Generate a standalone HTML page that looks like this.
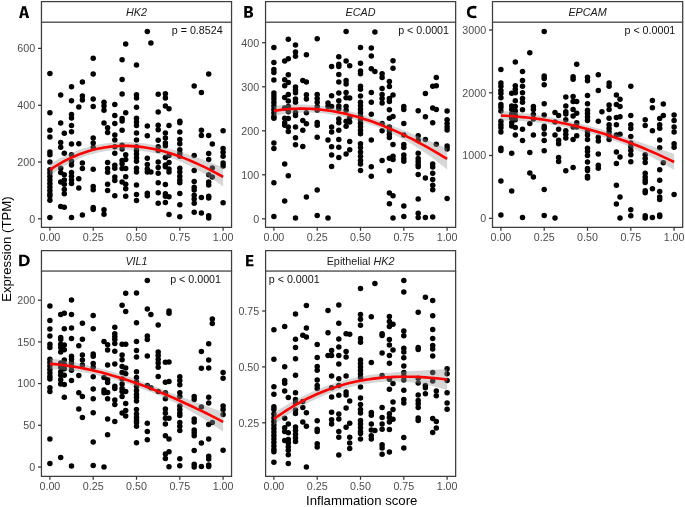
<!DOCTYPE html><html><head><meta charset="utf-8"><style>html,body{margin:0;padding:0;background:#fff}svg{display:block;will-change:transform;opacity:0.999}text{font-family:"Liberation Sans",sans-serif}</style></head><body>
<svg width="685" height="507" viewBox="0 0 685 507">
<rect width="685" height="507" fill="#fff"/>
<g id="pA">
<circle cx="49.9" cy="73.4" r="2.75"/>
<circle cx="49.9" cy="112.7" r="2.75"/>
<circle cx="49.9" cy="130.2" r="2.75"/>
<circle cx="49.9" cy="137.0" r="2.75"/>
<circle cx="49.9" cy="151.9" r="2.75"/>
<circle cx="49.9" cy="154.8" r="2.75"/>
<circle cx="49.9" cy="162.1" r="2.75"/>
<circle cx="49.9" cy="169.7" r="2.75"/>
<circle cx="49.9" cy="173.0" r="2.75"/>
<circle cx="49.9" cy="176.5" r="2.75"/>
<circle cx="49.9" cy="180.0" r="2.75"/>
<circle cx="49.9" cy="183.5" r="2.75"/>
<circle cx="49.9" cy="187.0" r="2.75"/>
<circle cx="49.9" cy="190.5" r="2.75"/>
<circle cx="49.9" cy="194.0" r="2.75"/>
<circle cx="49.9" cy="196.0" r="2.75"/>
<circle cx="49.9" cy="200.3" r="2.75"/>
<circle cx="49.9" cy="217.6" r="2.75"/>
<circle cx="60.7" cy="95.0" r="2.75"/>
<circle cx="60.7" cy="123.1" r="2.75"/>
<circle cx="60.7" cy="142.4" r="2.75"/>
<circle cx="60.7" cy="147.2" r="2.75"/>
<circle cx="60.7" cy="168.2" r="2.75"/>
<circle cx="60.7" cy="172.6" r="2.75"/>
<circle cx="60.7" cy="182.1" r="2.75"/>
<circle cx="60.7" cy="206.6" r="2.75"/>
<circle cx="64.3" cy="133.2" r="2.75"/>
<circle cx="64.3" cy="153.3" r="2.75"/>
<circle cx="64.3" cy="174.8" r="2.75"/>
<circle cx="64.3" cy="179.9" r="2.75"/>
<circle cx="64.3" cy="184.3" r="2.75"/>
<circle cx="64.3" cy="189.4" r="2.75"/>
<circle cx="64.3" cy="193.8" r="2.75"/>
<circle cx="64.3" cy="207.3" r="2.75"/>
<circle cx="71.5" cy="86.7" r="2.75"/>
<circle cx="71.5" cy="100.8" r="2.75"/>
<circle cx="71.5" cy="114.6" r="2.75"/>
<circle cx="71.5" cy="118.0" r="2.75"/>
<circle cx="71.5" cy="125.6" r="2.75"/>
<circle cx="71.5" cy="131.7" r="2.75"/>
<circle cx="71.5" cy="144.1" r="2.75"/>
<circle cx="71.5" cy="154.8" r="2.75"/>
<circle cx="71.5" cy="161.3" r="2.75"/>
<circle cx="71.5" cy="165.0" r="2.75"/>
<circle cx="71.5" cy="172.6" r="2.75"/>
<circle cx="71.5" cy="176.2" r="2.75"/>
<circle cx="71.5" cy="179.9" r="2.75"/>
<circle cx="71.5" cy="183.5" r="2.75"/>
<circle cx="71.5" cy="217.6" r="2.75"/>
<circle cx="78.8" cy="106.9" r="2.75"/>
<circle cx="78.8" cy="143.8" r="2.75"/>
<circle cx="78.8" cy="178.7" r="2.75"/>
<circle cx="78.8" cy="187.9" r="2.75"/>
<circle cx="82.4" cy="81.9" r="2.75"/>
<circle cx="82.4" cy="95.9" r="2.75"/>
<circle cx="82.4" cy="100.0" r="2.75"/>
<circle cx="82.4" cy="162.9" r="2.75"/>
<circle cx="82.4" cy="168.5" r="2.75"/>
<circle cx="82.4" cy="214.9" r="2.75"/>
<circle cx="93.2" cy="58.2" r="2.75"/>
<circle cx="93.2" cy="74.1" r="2.75"/>
<circle cx="93.2" cy="99.0" r="2.75"/>
<circle cx="93.2" cy="106.6" r="2.75"/>
<circle cx="93.2" cy="138.0" r="2.75"/>
<circle cx="93.2" cy="143.1" r="2.75"/>
<circle cx="93.2" cy="147.5" r="2.75"/>
<circle cx="93.2" cy="169.2" r="2.75"/>
<circle cx="93.2" cy="186.5" r="2.75"/>
<circle cx="93.2" cy="189.8" r="2.75"/>
<circle cx="93.2" cy="207.6" r="2.75"/>
<circle cx="93.2" cy="209.4" r="2.75"/>
<circle cx="104.0" cy="102.2" r="2.75"/>
<circle cx="104.0" cy="105.9" r="2.75"/>
<circle cx="104.0" cy="110.2" r="2.75"/>
<circle cx="104.0" cy="122.9" r="2.75"/>
<circle cx="104.0" cy="209.8" r="2.75"/>
<circle cx="104.0" cy="214.2" r="2.75"/>
<circle cx="107.6" cy="127.8" r="2.75"/>
<circle cx="107.6" cy="132.6" r="2.75"/>
<circle cx="107.6" cy="162.4" r="2.75"/>
<circle cx="107.6" cy="168.5" r="2.75"/>
<circle cx="107.6" cy="172.2" r="2.75"/>
<circle cx="107.6" cy="184.3" r="2.75"/>
<circle cx="107.6" cy="190.4" r="2.75"/>
<circle cx="114.8" cy="104.4" r="2.75"/>
<circle cx="114.8" cy="115.6" r="2.75"/>
<circle cx="114.8" cy="123.4" r="2.75"/>
<circle cx="114.8" cy="135.1" r="2.75"/>
<circle cx="114.8" cy="139.9" r="2.75"/>
<circle cx="114.8" cy="146.7" r="2.75"/>
<circle cx="114.8" cy="153.3" r="2.75"/>
<circle cx="114.8" cy="165.2" r="2.75"/>
<circle cx="114.8" cy="168.2" r="2.75"/>
<circle cx="114.8" cy="177.0" r="2.75"/>
<circle cx="114.8" cy="180.6" r="2.75"/>
<circle cx="114.8" cy="195.7" r="2.75"/>
<circle cx="122.1" cy="59.7" r="2.75"/>
<circle cx="122.1" cy="79.5" r="2.75"/>
<circle cx="122.1" cy="93.9" r="2.75"/>
<circle cx="122.1" cy="118.6" r="2.75"/>
<circle cx="122.1" cy="120.9" r="2.75"/>
<circle cx="122.1" cy="130.2" r="2.75"/>
<circle cx="122.1" cy="145.3" r="2.75"/>
<circle cx="122.1" cy="148.9" r="2.75"/>
<circle cx="122.1" cy="160.6" r="2.75"/>
<circle cx="122.1" cy="163.8" r="2.75"/>
<circle cx="122.1" cy="168.5" r="2.75"/>
<circle cx="122.1" cy="182.1" r="2.75"/>
<circle cx="125.7" cy="44.0" r="2.75"/>
<circle cx="125.7" cy="112.7" r="2.75"/>
<circle cx="125.7" cy="154.8" r="2.75"/>
<circle cx="125.7" cy="159.4" r="2.75"/>
<circle cx="125.7" cy="168.5" r="2.75"/>
<circle cx="125.7" cy="176.7" r="2.75"/>
<circle cx="125.7" cy="184.3" r="2.75"/>
<circle cx="125.7" cy="188.7" r="2.75"/>
<circle cx="125.7" cy="196.2" r="2.75"/>
<circle cx="136.5" cy="65.1" r="2.75"/>
<circle cx="136.5" cy="94.7" r="2.75"/>
<circle cx="136.5" cy="98.1" r="2.75"/>
<circle cx="136.5" cy="107.3" r="2.75"/>
<circle cx="136.5" cy="118.3" r="2.75"/>
<circle cx="136.5" cy="121.9" r="2.75"/>
<circle cx="136.5" cy="125.6" r="2.75"/>
<circle cx="136.5" cy="132.9" r="2.75"/>
<circle cx="136.5" cy="139.9" r="2.75"/>
<circle cx="136.5" cy="146.7" r="2.75"/>
<circle cx="136.5" cy="150.4" r="2.75"/>
<circle cx="136.5" cy="154.0" r="2.75"/>
<circle cx="136.5" cy="157.7" r="2.75"/>
<circle cx="136.5" cy="161.3" r="2.75"/>
<circle cx="136.5" cy="168.2" r="2.75"/>
<circle cx="136.5" cy="171.9" r="2.75"/>
<circle cx="136.5" cy="185.0" r="2.75"/>
<circle cx="136.5" cy="194.5" r="2.75"/>
<circle cx="136.5" cy="200.6" r="2.75"/>
<circle cx="147.3" cy="31.5" r="2.75"/>
<circle cx="147.3" cy="125.9" r="2.75"/>
<circle cx="147.3" cy="135.8" r="2.75"/>
<circle cx="147.3" cy="158.2" r="2.75"/>
<circle cx="147.3" cy="164.5" r="2.75"/>
<circle cx="147.3" cy="168.9" r="2.75"/>
<circle cx="147.3" cy="171.9" r="2.75"/>
<circle cx="147.3" cy="193.3" r="2.75"/>
<circle cx="147.3" cy="195.7" r="2.75"/>
<circle cx="150.9" cy="43.0" r="2.75"/>
<circle cx="150.9" cy="171.9" r="2.75"/>
<circle cx="158.2" cy="94.2" r="2.75"/>
<circle cx="158.2" cy="112.1" r="2.75"/>
<circle cx="158.2" cy="125.3" r="2.75"/>
<circle cx="158.2" cy="129.7" r="2.75"/>
<circle cx="158.2" cy="140.2" r="2.75"/>
<circle cx="158.2" cy="146.7" r="2.75"/>
<circle cx="158.2" cy="150.4" r="2.75"/>
<circle cx="158.2" cy="162.1" r="2.75"/>
<circle cx="158.2" cy="167.5" r="2.75"/>
<circle cx="158.2" cy="173.3" r="2.75"/>
<circle cx="158.2" cy="182.8" r="2.75"/>
<circle cx="158.2" cy="192.7" r="2.75"/>
<circle cx="158.2" cy="203.3" r="2.75"/>
<circle cx="165.4" cy="93.8" r="2.75"/>
<circle cx="165.4" cy="98.1" r="2.75"/>
<circle cx="165.4" cy="105.9" r="2.75"/>
<circle cx="165.4" cy="132.9" r="2.75"/>
<circle cx="165.4" cy="138.0" r="2.75"/>
<circle cx="165.4" cy="143.1" r="2.75"/>
<circle cx="165.4" cy="145.7" r="2.75"/>
<circle cx="165.4" cy="157.5" r="2.75"/>
<circle cx="165.4" cy="165.0" r="2.75"/>
<circle cx="165.4" cy="166.8" r="2.75"/>
<circle cx="165.4" cy="184.6" r="2.75"/>
<circle cx="165.4" cy="193.8" r="2.75"/>
<circle cx="165.4" cy="196.2" r="2.75"/>
<circle cx="165.4" cy="202.5" r="2.75"/>
<circle cx="169.0" cy="108.8" r="2.75"/>
<circle cx="169.0" cy="125.6" r="2.75"/>
<circle cx="169.0" cy="155.5" r="2.75"/>
<circle cx="169.0" cy="162.4" r="2.75"/>
<circle cx="169.0" cy="168.9" r="2.75"/>
<circle cx="169.0" cy="171.9" r="2.75"/>
<circle cx="169.0" cy="196.7" r="2.75"/>
<circle cx="169.0" cy="214.6" r="2.75"/>
<circle cx="179.8" cy="121.2" r="2.75"/>
<circle cx="179.8" cy="122.7" r="2.75"/>
<circle cx="179.8" cy="132.1" r="2.75"/>
<circle cx="179.8" cy="139.4" r="2.75"/>
<circle cx="179.8" cy="143.8" r="2.75"/>
<circle cx="179.8" cy="149.7" r="2.75"/>
<circle cx="179.8" cy="153.3" r="2.75"/>
<circle cx="179.8" cy="156.2" r="2.75"/>
<circle cx="179.8" cy="168.2" r="2.75"/>
<circle cx="179.8" cy="171.9" r="2.75"/>
<circle cx="179.8" cy="176.2" r="2.75"/>
<circle cx="179.8" cy="179.9" r="2.75"/>
<circle cx="179.8" cy="182.8" r="2.75"/>
<circle cx="179.8" cy="193.5" r="2.75"/>
<circle cx="179.8" cy="204.7" r="2.75"/>
<circle cx="179.8" cy="216.7" r="2.75"/>
<circle cx="194.2" cy="85.9" r="2.75"/>
<circle cx="194.2" cy="155.5" r="2.75"/>
<circle cx="194.2" cy="170.4" r="2.75"/>
<circle cx="194.2" cy="181.4" r="2.75"/>
<circle cx="194.2" cy="187.2" r="2.75"/>
<circle cx="194.2" cy="190.1" r="2.75"/>
<circle cx="194.2" cy="195.2" r="2.75"/>
<circle cx="194.2" cy="198.9" r="2.75"/>
<circle cx="194.2" cy="203.3" r="2.75"/>
<circle cx="194.2" cy="212.3" r="2.75"/>
<circle cx="201.4" cy="92.4" r="2.75"/>
<circle cx="201.4" cy="130.2" r="2.75"/>
<circle cx="201.4" cy="135.5" r="2.75"/>
<circle cx="201.4" cy="197.4" r="2.75"/>
<circle cx="201.4" cy="213.0" r="2.75"/>
<circle cx="208.7" cy="74.0" r="2.75"/>
<circle cx="208.7" cy="135.4" r="2.75"/>
<circle cx="208.7" cy="153.6" r="2.75"/>
<circle cx="208.7" cy="159.4" r="2.75"/>
<circle cx="208.7" cy="174.8" r="2.75"/>
<circle cx="208.7" cy="182.1" r="2.75"/>
<circle cx="208.7" cy="185.0" r="2.75"/>
<circle cx="208.7" cy="196.2" r="2.75"/>
<circle cx="208.7" cy="198.1" r="2.75"/>
<circle cx="208.7" cy="215.7" r="2.75"/>
<circle cx="208.7" cy="217.9" r="2.75"/>
<circle cx="212.3" cy="144.1" r="2.75"/>
<circle cx="212.3" cy="167.9" r="2.75"/>
<circle cx="212.3" cy="177.0" r="2.75"/>
<circle cx="223.1" cy="130.7" r="2.75"/>
<circle cx="223.1" cy="148.5" r="2.75"/>
<circle cx="223.1" cy="152.3" r="2.75"/>
<circle cx="223.1" cy="156.3" r="2.75"/>
<circle cx="223.1" cy="163.0" r="2.75"/>
<circle cx="223.1" cy="166.0" r="2.75"/>
<circle cx="223.1" cy="202.8" r="2.75"/>
<polygon points="49.9,164.1 54.2,161.5 58.6,159.1 62.9,156.9 67.2,154.8 71.5,152.9 75.9,151.1 80.2,149.6 84.5,148.1 88.9,146.9 93.2,145.7 97.5,144.8 101.9,143.9 106.2,143.3 110.5,142.7 114.8,142.3 119.2,142.1 123.5,142.0 127.8,142.0 132.2,142.2 136.5,142.5 140.8,143.0 145.2,143.6 149.5,144.3 153.8,145.1 158.2,146.1 162.5,147.1 166.8,148.2 171.1,149.3 175.5,150.5 179.8,151.8 184.1,153.2 188.5,154.6 192.8,156.0 197.1,157.5 201.4,159.1 205.8,160.7 210.1,162.3 214.4,164.0 218.8,165.7 223.1,167.4 223.1,186.4 218.8,183.3 214.4,180.3 210.1,177.5 205.8,174.8 201.4,172.2 197.1,169.7 192.8,167.4 188.5,165.2 184.1,163.1 179.8,161.2 175.5,159.4 171.1,157.8 166.8,156.4 162.5,155.0 158.2,153.9 153.8,152.9 149.5,152.1 145.2,151.4 140.8,150.8 136.5,150.3 132.2,150.0 127.8,149.8 123.5,149.8 119.2,149.9 114.8,150.1 110.5,150.5 106.2,151.1 101.9,151.8 97.5,152.7 93.2,153.9 88.9,155.1 84.5,156.6 80.2,158.3 75.9,160.2 71.5,162.2 67.2,164.5 62.9,167.0 58.6,169.7 54.2,172.6 49.9,175.7" fill="#999" fill-opacity="0.4"/>
<polyline points="49.9,169.9 54.2,167.0 58.6,164.4 62.9,161.9 67.2,159.6 71.5,157.6 75.9,155.7 80.2,153.9 84.5,152.4 88.9,151.0 93.2,149.8 97.5,148.8 101.9,147.9 106.2,147.2 110.5,146.6 114.8,146.2 119.2,146.0 123.5,145.9 127.8,145.9 132.2,146.1 136.5,146.4 140.8,146.9 145.2,147.5 149.5,148.2 153.8,149.0 158.2,150.0 162.5,151.1 166.8,152.3 171.1,153.6 175.5,155.0 179.8,156.5 184.1,158.1 188.5,159.9 192.8,161.7 197.1,163.6 201.4,165.6 205.8,167.7 210.1,169.9 214.4,172.2 218.8,174.5 223.1,176.9" fill="none" stroke="#f00" stroke-width="2.6" stroke-linecap="butt" stroke-linejoin="round"/>
<rect x="41.45" y="1.6" width="190.1" height="20.6" fill="#fff" stroke="#3d3d3d" stroke-width="1.25"/>
<path d="M41.45,22.2 V227.3 H231.55 V22.2" fill="none" stroke="#3d3d3d" stroke-width="1.25" stroke-linejoin="miter"/>
<text x="136.5" y="16.0" font-size="10.8" text-anchor="middle" fill="#1a1a1a"><tspan font-style="italic">HK2</tspan></text>
<line x1="38.0" x2="41.5" y1="218.8" y2="218.8" stroke="#333" stroke-width="1.25"/>
<text x="35.1" y="222.6" font-size="10.7" text-anchor="end" fill="#4d4d4d">0</text>
<line x1="38.0" x2="41.5" y1="162.0" y2="162.0" stroke="#333" stroke-width="1.25"/>
<text x="35.1" y="165.8" font-size="10.7" text-anchor="end" fill="#4d4d4d">200</text>
<line x1="38.0" x2="41.5" y1="105.3" y2="105.3" stroke="#333" stroke-width="1.25"/>
<text x="35.1" y="109.1" font-size="10.7" text-anchor="end" fill="#4d4d4d">400</text>
<line x1="38.0" x2="41.5" y1="48.4" y2="48.4" stroke="#333" stroke-width="1.25"/>
<text x="35.1" y="52.2" font-size="10.7" text-anchor="end" fill="#4d4d4d">600</text>
<line x1="49.9" x2="49.9" y1="227.3" y2="230.8" stroke="#333" stroke-width="1.25"/>
<text x="49.9" y="241.3" font-size="10.7" text-anchor="middle" fill="#4d4d4d">0.00</text>
<line x1="93.2" x2="93.2" y1="227.3" y2="230.8" stroke="#333" stroke-width="1.25"/>
<text x="93.2" y="241.3" font-size="10.7" text-anchor="middle" fill="#4d4d4d">0.25</text>
<line x1="136.5" x2="136.5" y1="227.3" y2="230.8" stroke="#333" stroke-width="1.25"/>
<text x="136.5" y="241.3" font-size="10.7" text-anchor="middle" fill="#4d4d4d">0.50</text>
<line x1="179.8" x2="179.8" y1="227.3" y2="230.8" stroke="#333" stroke-width="1.25"/>
<text x="179.8" y="241.3" font-size="10.7" text-anchor="middle" fill="#4d4d4d">0.75</text>
<line x1="223.1" x2="223.1" y1="227.3" y2="230.8" stroke="#333" stroke-width="1.25"/>
<text x="223.1" y="241.3" font-size="10.7" text-anchor="middle" fill="#4d4d4d">1.00</text>
<text x="222.6" y="34.0" font-size="10.7" text-anchor="end" fill="#111">p = 0.8524</text>
</g>
<path fill-rule="evenodd" d="M19.1,17.9 L22.2,6.3 H25.8 L29.1,17.9 H26.35 L25.65,15.3 H22.45 L21.8,17.9 Z M22.55,13.45 H25.45 L24.0,8.6 Z"/>
<g id="pB">
<circle cx="273.9" cy="47.5" r="2.75"/>
<circle cx="273.9" cy="62.6" r="2.75"/>
<circle cx="273.9" cy="69.4" r="2.75"/>
<circle cx="273.9" cy="72.4" r="2.75"/>
<circle cx="273.9" cy="80.0" r="2.75"/>
<circle cx="273.9" cy="93.1" r="2.75"/>
<circle cx="273.9" cy="96.0" r="2.75"/>
<circle cx="273.9" cy="99.0" r="2.75"/>
<circle cx="273.9" cy="102.5" r="2.75"/>
<circle cx="273.9" cy="106.0" r="2.75"/>
<circle cx="273.9" cy="109.5" r="2.75"/>
<circle cx="273.9" cy="113.0" r="2.75"/>
<circle cx="273.9" cy="116.5" r="2.75"/>
<circle cx="273.9" cy="118.3" r="2.75"/>
<circle cx="273.9" cy="143.1" r="2.75"/>
<circle cx="273.9" cy="148.6" r="2.75"/>
<circle cx="273.9" cy="182.8" r="2.75"/>
<circle cx="273.9" cy="216.4" r="2.75"/>
<circle cx="284.7" cy="61.1" r="2.75"/>
<circle cx="284.7" cy="79.7" r="2.75"/>
<circle cx="284.7" cy="85.8" r="2.75"/>
<circle cx="284.7" cy="97.5" r="2.75"/>
<circle cx="284.7" cy="108.0" r="2.75"/>
<circle cx="284.7" cy="118.3" r="2.75"/>
<circle cx="284.7" cy="122.7" r="2.75"/>
<circle cx="284.7" cy="125.3" r="2.75"/>
<circle cx="284.7" cy="164.0" r="2.75"/>
<circle cx="284.7" cy="201.1" r="2.75"/>
<circle cx="288.3" cy="39.2" r="2.75"/>
<circle cx="288.3" cy="58.8" r="2.75"/>
<circle cx="288.3" cy="74.8" r="2.75"/>
<circle cx="288.3" cy="82.6" r="2.75"/>
<circle cx="288.3" cy="94.6" r="2.75"/>
<circle cx="288.3" cy="101.0" r="2.75"/>
<circle cx="288.3" cy="106.6" r="2.75"/>
<circle cx="288.3" cy="111.7" r="2.75"/>
<circle cx="288.3" cy="118.6" r="2.75"/>
<circle cx="288.3" cy="127.0" r="2.75"/>
<circle cx="288.3" cy="131.4" r="2.75"/>
<circle cx="288.3" cy="175.8" r="2.75"/>
<circle cx="295.5" cy="45.1" r="2.75"/>
<circle cx="295.5" cy="51.9" r="2.75"/>
<circle cx="295.5" cy="56.3" r="2.75"/>
<circle cx="295.5" cy="87.0" r="2.75"/>
<circle cx="295.5" cy="89.9" r="2.75"/>
<circle cx="295.5" cy="92.8" r="2.75"/>
<circle cx="295.5" cy="99.0" r="2.75"/>
<circle cx="295.5" cy="102.2" r="2.75"/>
<circle cx="295.5" cy="112.4" r="2.75"/>
<circle cx="295.5" cy="115.6" r="2.75"/>
<circle cx="295.5" cy="127.0" r="2.75"/>
<circle cx="295.5" cy="137.7" r="2.75"/>
<circle cx="295.5" cy="144.8" r="2.75"/>
<circle cx="295.5" cy="217.9" r="2.75"/>
<circle cx="302.8" cy="80.4" r="2.75"/>
<circle cx="302.8" cy="120.5" r="2.75"/>
<circle cx="302.8" cy="130.2" r="2.75"/>
<circle cx="302.8" cy="146.5" r="2.75"/>
<circle cx="306.4" cy="54.8" r="2.75"/>
<circle cx="306.4" cy="81.9" r="2.75"/>
<circle cx="306.4" cy="94.7" r="2.75"/>
<circle cx="306.4" cy="99.0" r="2.75"/>
<circle cx="306.4" cy="112.7" r="2.75"/>
<circle cx="306.4" cy="123.8" r="2.75"/>
<circle cx="306.4" cy="197.1" r="2.75"/>
<circle cx="317.2" cy="38.8" r="2.75"/>
<circle cx="317.2" cy="94.4" r="2.75"/>
<circle cx="317.2" cy="98.6" r="2.75"/>
<circle cx="317.2" cy="102.2" r="2.75"/>
<circle cx="317.2" cy="106.6" r="2.75"/>
<circle cx="317.2" cy="110.2" r="2.75"/>
<circle cx="317.2" cy="122.4" r="2.75"/>
<circle cx="317.2" cy="125.3" r="2.75"/>
<circle cx="317.2" cy="137.3" r="2.75"/>
<circle cx="317.2" cy="190.1" r="2.75"/>
<circle cx="317.2" cy="215.4" r="2.75"/>
<circle cx="328.0" cy="102.9" r="2.75"/>
<circle cx="328.0" cy="106.6" r="2.75"/>
<circle cx="328.0" cy="139.9" r="2.75"/>
<circle cx="328.0" cy="217.9" r="2.75"/>
<circle cx="331.6" cy="66.5" r="2.75"/>
<circle cx="331.6" cy="95.7" r="2.75"/>
<circle cx="331.6" cy="106.6" r="2.75"/>
<circle cx="331.6" cy="127.0" r="2.75"/>
<circle cx="331.6" cy="132.1" r="2.75"/>
<circle cx="331.6" cy="146.7" r="2.75"/>
<circle cx="331.6" cy="155.1" r="2.75"/>
<circle cx="331.6" cy="166.5" r="2.75"/>
<circle cx="338.8" cy="56.7" r="2.75"/>
<circle cx="338.8" cy="64.3" r="2.75"/>
<circle cx="338.8" cy="66.5" r="2.75"/>
<circle cx="338.8" cy="74.6" r="2.75"/>
<circle cx="338.8" cy="82.1" r="2.75"/>
<circle cx="338.8" cy="92.9" r="2.75"/>
<circle cx="338.8" cy="100.8" r="2.75"/>
<circle cx="338.8" cy="105.9" r="2.75"/>
<circle cx="338.8" cy="108.8" r="2.75"/>
<circle cx="338.8" cy="119.0" r="2.75"/>
<circle cx="338.8" cy="122.7" r="2.75"/>
<circle cx="338.8" cy="130.2" r="2.75"/>
<circle cx="338.8" cy="139.4" r="2.75"/>
<circle cx="338.8" cy="147.2" r="2.75"/>
<circle cx="338.8" cy="157.5" r="2.75"/>
<circle cx="346.1" cy="31.5" r="2.75"/>
<circle cx="346.1" cy="61.0" r="2.75"/>
<circle cx="346.1" cy="80.4" r="2.75"/>
<circle cx="346.1" cy="84.0" r="2.75"/>
<circle cx="346.1" cy="92.4" r="2.75"/>
<circle cx="346.1" cy="97.8" r="2.75"/>
<circle cx="346.1" cy="106.6" r="2.75"/>
<circle cx="346.1" cy="110.2" r="2.75"/>
<circle cx="346.1" cy="121.2" r="2.75"/>
<circle cx="346.1" cy="126.3" r="2.75"/>
<circle cx="346.1" cy="154.0" r="2.75"/>
<circle cx="349.7" cy="65.8" r="2.75"/>
<circle cx="349.7" cy="98.1" r="2.75"/>
<circle cx="349.7" cy="117.5" r="2.75"/>
<circle cx="349.7" cy="121.9" r="2.75"/>
<circle cx="349.7" cy="141.6" r="2.75"/>
<circle cx="349.7" cy="149.7" r="2.75"/>
<circle cx="360.5" cy="47.5" r="2.75"/>
<circle cx="360.5" cy="63.3" r="2.75"/>
<circle cx="360.5" cy="70.9" r="2.75"/>
<circle cx="360.5" cy="73.8" r="2.75"/>
<circle cx="360.5" cy="86.2" r="2.75"/>
<circle cx="360.5" cy="89.2" r="2.75"/>
<circle cx="360.5" cy="96.0" r="2.75"/>
<circle cx="360.5" cy="102.2" r="2.75"/>
<circle cx="360.5" cy="105.7" r="2.75"/>
<circle cx="360.5" cy="109.2" r="2.75"/>
<circle cx="360.5" cy="112.7" r="2.75"/>
<circle cx="360.5" cy="116.2" r="2.75"/>
<circle cx="360.5" cy="119.7" r="2.75"/>
<circle cx="360.5" cy="123.2" r="2.75"/>
<circle cx="360.5" cy="126.7" r="2.75"/>
<circle cx="360.5" cy="130.2" r="2.75"/>
<circle cx="360.5" cy="133.7" r="2.75"/>
<circle cx="360.5" cy="143.8" r="2.75"/>
<circle cx="360.5" cy="147.5" r="2.75"/>
<circle cx="360.5" cy="151.9" r="2.75"/>
<circle cx="360.5" cy="156.2" r="2.75"/>
<circle cx="360.5" cy="160.4" r="2.75"/>
<circle cx="360.5" cy="163.9" r="2.75"/>
<circle cx="360.5" cy="170.4" r="2.75"/>
<circle cx="371.3" cy="48.0" r="2.75"/>
<circle cx="371.3" cy="55.9" r="2.75"/>
<circle cx="371.3" cy="68.7" r="2.75"/>
<circle cx="371.3" cy="92.4" r="2.75"/>
<circle cx="371.3" cy="102.2" r="2.75"/>
<circle cx="371.3" cy="114.2" r="2.75"/>
<circle cx="371.3" cy="139.9" r="2.75"/>
<circle cx="371.3" cy="166.8" r="2.75"/>
<circle cx="371.3" cy="176.2" r="2.75"/>
<circle cx="374.9" cy="31.9" r="2.75"/>
<circle cx="374.9" cy="71.6" r="2.75"/>
<circle cx="382.1" cy="73.8" r="2.75"/>
<circle cx="382.1" cy="77.5" r="2.75"/>
<circle cx="382.1" cy="88.4" r="2.75"/>
<circle cx="382.1" cy="94.4" r="2.75"/>
<circle cx="382.1" cy="98.6" r="2.75"/>
<circle cx="382.1" cy="102.9" r="2.75"/>
<circle cx="382.1" cy="123.4" r="2.75"/>
<circle cx="382.1" cy="130.7" r="2.75"/>
<circle cx="382.1" cy="160.6" r="2.75"/>
<circle cx="389.4" cy="81.6" r="2.75"/>
<circle cx="389.4" cy="86.5" r="2.75"/>
<circle cx="389.4" cy="98.6" r="2.75"/>
<circle cx="389.4" cy="101.5" r="2.75"/>
<circle cx="389.4" cy="109.8" r="2.75"/>
<circle cx="389.4" cy="118.3" r="2.75"/>
<circle cx="389.4" cy="127.0" r="2.75"/>
<circle cx="389.4" cy="130.7" r="2.75"/>
<circle cx="389.4" cy="134.3" r="2.75"/>
<circle cx="389.4" cy="137.5" r="2.75"/>
<circle cx="389.4" cy="158.2" r="2.75"/>
<circle cx="389.4" cy="170.8" r="2.75"/>
<circle cx="389.4" cy="193.0" r="2.75"/>
<circle cx="389.4" cy="203.7" r="2.75"/>
<circle cx="393.0" cy="60.7" r="2.75"/>
<circle cx="393.0" cy="68.3" r="2.75"/>
<circle cx="393.0" cy="94.9" r="2.75"/>
<circle cx="393.0" cy="116.4" r="2.75"/>
<circle cx="393.0" cy="144.6" r="2.75"/>
<circle cx="393.0" cy="156.2" r="2.75"/>
<circle cx="393.0" cy="159.5" r="2.75"/>
<circle cx="393.0" cy="195.7" r="2.75"/>
<circle cx="393.0" cy="218.1" r="2.75"/>
<circle cx="403.8" cy="106.6" r="2.75"/>
<circle cx="403.8" cy="109.5" r="2.75"/>
<circle cx="403.8" cy="123.4" r="2.75"/>
<circle cx="403.8" cy="135.1" r="2.75"/>
<circle cx="403.8" cy="144.6" r="2.75"/>
<circle cx="403.8" cy="147.5" r="2.75"/>
<circle cx="403.8" cy="155.1" r="2.75"/>
<circle cx="403.8" cy="158.4" r="2.75"/>
<circle cx="403.8" cy="161.2" r="2.75"/>
<circle cx="403.8" cy="205.9" r="2.75"/>
<circle cx="403.8" cy="216.4" r="2.75"/>
<circle cx="418.2" cy="110.7" r="2.75"/>
<circle cx="418.2" cy="135.8" r="2.75"/>
<circle cx="418.2" cy="140.2" r="2.75"/>
<circle cx="418.2" cy="153.3" r="2.75"/>
<circle cx="418.2" cy="158.4" r="2.75"/>
<circle cx="418.2" cy="161.5" r="2.75"/>
<circle cx="418.2" cy="164.5" r="2.75"/>
<circle cx="418.2" cy="166.8" r="2.75"/>
<circle cx="418.2" cy="174.5" r="2.75"/>
<circle cx="418.2" cy="198.9" r="2.75"/>
<circle cx="418.2" cy="213.2" r="2.75"/>
<circle cx="418.2" cy="217.6" r="2.75"/>
<circle cx="425.4" cy="93.5" r="2.75"/>
<circle cx="425.4" cy="116.8" r="2.75"/>
<circle cx="425.4" cy="139.4" r="2.75"/>
<circle cx="425.4" cy="178.0" r="2.75"/>
<circle cx="425.4" cy="217.6" r="2.75"/>
<circle cx="432.7" cy="86.2" r="2.75"/>
<circle cx="432.7" cy="108.1" r="2.75"/>
<circle cx="432.7" cy="122.7" r="2.75"/>
<circle cx="432.7" cy="164.1" r="2.75"/>
<circle cx="432.7" cy="167.0" r="2.75"/>
<circle cx="432.7" cy="173.3" r="2.75"/>
<circle cx="432.7" cy="179.5" r="2.75"/>
<circle cx="432.7" cy="185.3" r="2.75"/>
<circle cx="432.7" cy="189.7" r="2.75"/>
<circle cx="432.7" cy="217.1" r="2.75"/>
<circle cx="436.3" cy="77.5" r="2.75"/>
<circle cx="436.3" cy="85.8" r="2.75"/>
<circle cx="436.3" cy="109.5" r="2.75"/>
<circle cx="436.3" cy="144.3" r="2.75"/>
<circle cx="447.1" cy="111.0" r="2.75"/>
<circle cx="447.1" cy="119.7" r="2.75"/>
<circle cx="447.1" cy="123.4" r="2.75"/>
<circle cx="447.1" cy="127.0" r="2.75"/>
<circle cx="447.1" cy="130.0" r="2.75"/>
<circle cx="447.1" cy="146.0" r="2.75"/>
<circle cx="447.1" cy="148.9" r="2.75"/>
<circle cx="447.1" cy="198.6" r="2.75"/>
<polygon points="273.9,105.9 278.2,105.4 282.6,105.0 286.9,104.7 291.2,104.6 295.5,104.5 299.9,104.5 304.2,104.6 308.5,104.8 312.9,105.1 317.2,105.5 321.5,106.0 325.9,106.6 330.2,107.2 334.5,107.9 338.8,108.8 343.2,109.7 347.5,110.7 351.8,111.8 356.2,112.9 360.5,114.2 364.8,115.6 369.2,117.0 373.5,118.5 377.8,120.1 382.1,121.8 386.5,123.5 390.8,125.2 395.1,126.9 399.5,128.6 403.8,130.4 408.1,132.1 412.5,133.9 416.8,135.7 421.1,137.5 425.4,139.3 429.8,141.1 434.1,143.0 438.4,144.8 442.8,146.6 447.1,148.4 447.1,169.4 442.8,165.9 438.4,162.6 434.1,159.3 429.8,156.1 425.4,153.0 421.1,150.1 416.8,147.3 412.5,144.6 408.1,142.0 403.8,139.5 399.5,137.2 395.1,134.9 390.8,132.8 386.5,130.9 382.1,129.0 377.8,127.3 373.5,125.7 369.2,124.2 364.8,122.8 360.5,121.4 356.2,120.1 351.8,119.0 347.5,117.9 343.2,116.9 338.8,116.0 334.5,115.1 330.2,114.4 325.9,113.8 321.5,113.3 317.2,112.9 312.9,112.7 308.5,112.5 304.2,112.5 299.9,112.6 295.5,112.8 291.2,113.2 286.9,113.7 282.6,114.3 278.2,115.0 273.9,115.9" fill="#999" fill-opacity="0.4"/>
<polyline points="273.9,110.9 278.2,110.2 282.6,109.6 286.9,109.2 291.2,108.9 295.5,108.7 299.9,108.6 304.2,108.6 308.5,108.7 312.9,108.9 317.2,109.2 321.5,109.7 325.9,110.2 330.2,110.8 334.5,111.5 338.8,112.4 343.2,113.3 347.5,114.3 351.8,115.4 356.2,116.5 360.5,117.8 364.8,119.2 369.2,120.6 373.5,122.1 377.8,123.7 382.1,125.4 386.5,127.2 390.8,129.0 395.1,130.9 399.5,132.9 403.8,134.9 408.1,137.1 412.5,139.2 416.8,141.5 421.1,143.8 425.4,146.2 429.8,148.6 434.1,151.1 438.4,153.7 442.8,156.3 447.1,158.9" fill="none" stroke="#f00" stroke-width="2.6" stroke-linecap="butt" stroke-linejoin="round"/>
<rect x="265.55" y="1.6" width="190.1" height="20.6" fill="#fff" stroke="#3d3d3d" stroke-width="1.25"/>
<path d="M265.55,22.2 V227.3 H455.65 V22.2" fill="none" stroke="#3d3d3d" stroke-width="1.25" stroke-linejoin="miter"/>
<text x="360.6" y="16.0" font-size="10.8" text-anchor="middle" fill="#1a1a1a"><tspan font-style="italic">ECAD</tspan></text>
<line x1="262.1" x2="265.6" y1="218.8" y2="218.8" stroke="#333" stroke-width="1.25"/>
<text x="259.2" y="222.6" font-size="10.7" text-anchor="end" fill="#4d4d4d">0</text>
<line x1="262.1" x2="265.6" y1="174.8" y2="174.8" stroke="#333" stroke-width="1.25"/>
<text x="259.2" y="178.6" font-size="10.7" text-anchor="end" fill="#4d4d4d">100</text>
<line x1="262.1" x2="265.6" y1="130.8" y2="130.8" stroke="#333" stroke-width="1.25"/>
<text x="259.2" y="134.6" font-size="10.7" text-anchor="end" fill="#4d4d4d">200</text>
<line x1="262.1" x2="265.6" y1="86.8" y2="86.8" stroke="#333" stroke-width="1.25"/>
<text x="259.2" y="90.6" font-size="10.7" text-anchor="end" fill="#4d4d4d">300</text>
<line x1="262.1" x2="265.6" y1="42.7" y2="42.7" stroke="#333" stroke-width="1.25"/>
<text x="259.2" y="46.5" font-size="10.7" text-anchor="end" fill="#4d4d4d">400</text>
<line x1="273.9" x2="273.9" y1="227.3" y2="230.8" stroke="#333" stroke-width="1.25"/>
<text x="273.9" y="241.3" font-size="10.7" text-anchor="middle" fill="#4d4d4d">0.00</text>
<line x1="317.2" x2="317.2" y1="227.3" y2="230.8" stroke="#333" stroke-width="1.25"/>
<text x="317.2" y="241.3" font-size="10.7" text-anchor="middle" fill="#4d4d4d">0.25</text>
<line x1="360.5" x2="360.5" y1="227.3" y2="230.8" stroke="#333" stroke-width="1.25"/>
<text x="360.5" y="241.3" font-size="10.7" text-anchor="middle" fill="#4d4d4d">0.50</text>
<line x1="403.8" x2="403.8" y1="227.3" y2="230.8" stroke="#333" stroke-width="1.25"/>
<text x="403.8" y="241.3" font-size="10.7" text-anchor="middle" fill="#4d4d4d">0.75</text>
<line x1="447.1" x2="447.1" y1="227.3" y2="230.8" stroke="#333" stroke-width="1.25"/>
<text x="447.1" y="241.3" font-size="10.7" text-anchor="middle" fill="#4d4d4d">1.00</text>
<text x="449.0" y="34.0" font-size="10.7" text-anchor="end" fill="#111">p &lt; 0.0001</text>
</g>
<path fill-rule="evenodd" d="M244.3,6.1 H248.6 C251.5,6.1 252.7,7.3 252.7,9.1 C252.7,10.4 252.0,11.3 250.8,11.7 C252.3,12.0 253.1,13.0 253.1,14.5 C253.1,16.6 251.6,17.8 248.7,17.8 H244.3 Z M246.9,8.2 V10.9 H248.3 C249.5,10.9 250.1,10.4 250.1,9.5 C250.1,8.6 249.5,8.2 248.3,8.2 Z M246.9,12.9 V15.8 H248.5 C249.8,15.8 250.4,15.3 250.4,14.3 C250.4,13.4 249.8,12.9 248.5,12.9 Z"/>
<g id="pC">
<circle cx="500.9" cy="69.4" r="2.75"/>
<circle cx="500.9" cy="83.0" r="2.75"/>
<circle cx="500.9" cy="86.2" r="2.75"/>
<circle cx="500.9" cy="90.6" r="2.75"/>
<circle cx="500.9" cy="93.5" r="2.75"/>
<circle cx="500.9" cy="97.8" r="2.75"/>
<circle cx="500.9" cy="104.4" r="2.75"/>
<circle cx="500.9" cy="107.3" r="2.75"/>
<circle cx="500.9" cy="111.0" r="2.75"/>
<circle cx="500.9" cy="121.2" r="2.75"/>
<circle cx="500.9" cy="124.8" r="2.75"/>
<circle cx="500.9" cy="127.8" r="2.75"/>
<circle cx="500.9" cy="132.1" r="2.75"/>
<circle cx="500.9" cy="148.2" r="2.75"/>
<circle cx="500.9" cy="150.4" r="2.75"/>
<circle cx="500.9" cy="180.9" r="2.75"/>
<circle cx="500.9" cy="214.9" r="2.75"/>
<circle cx="511.7" cy="93.3" r="2.75"/>
<circle cx="511.7" cy="105.9" r="2.75"/>
<circle cx="511.7" cy="109.5" r="2.75"/>
<circle cx="511.7" cy="113.9" r="2.75"/>
<circle cx="511.7" cy="118.3" r="2.75"/>
<circle cx="511.7" cy="122.7" r="2.75"/>
<circle cx="511.7" cy="125.9" r="2.75"/>
<circle cx="511.7" cy="153.3" r="2.75"/>
<circle cx="511.7" cy="191.1" r="2.75"/>
<circle cx="515.3" cy="61.9" r="2.75"/>
<circle cx="515.3" cy="85.8" r="2.75"/>
<circle cx="515.3" cy="89.2" r="2.75"/>
<circle cx="515.3" cy="92.8" r="2.75"/>
<circle cx="515.3" cy="100.8" r="2.75"/>
<circle cx="515.3" cy="106.6" r="2.75"/>
<circle cx="515.3" cy="111.0" r="2.75"/>
<circle cx="515.3" cy="115.4" r="2.75"/>
<circle cx="515.3" cy="119.7" r="2.75"/>
<circle cx="515.3" cy="127.5" r="2.75"/>
<circle cx="515.3" cy="135.1" r="2.75"/>
<circle cx="522.5" cy="71.6" r="2.75"/>
<circle cx="522.5" cy="80.4" r="2.75"/>
<circle cx="522.5" cy="86.2" r="2.75"/>
<circle cx="522.5" cy="92.8" r="2.75"/>
<circle cx="522.5" cy="98.6" r="2.75"/>
<circle cx="522.5" cy="102.2" r="2.75"/>
<circle cx="522.5" cy="109.8" r="2.75"/>
<circle cx="522.5" cy="129.2" r="2.75"/>
<circle cx="522.5" cy="140.6" r="2.75"/>
<circle cx="522.5" cy="217.4" r="2.75"/>
<circle cx="529.8" cy="52.7" r="2.75"/>
<circle cx="529.8" cy="123.4" r="2.75"/>
<circle cx="529.8" cy="152.6" r="2.75"/>
<circle cx="529.8" cy="172.9" r="2.75"/>
<circle cx="533.4" cy="106.6" r="2.75"/>
<circle cx="533.4" cy="109.5" r="2.75"/>
<circle cx="533.4" cy="114.6" r="2.75"/>
<circle cx="533.4" cy="119.0" r="2.75"/>
<circle cx="533.4" cy="135.1" r="2.75"/>
<circle cx="533.4" cy="177.0" r="2.75"/>
<circle cx="544.2" cy="31.5" r="2.75"/>
<circle cx="544.2" cy="76.0" r="2.75"/>
<circle cx="544.2" cy="78.6" r="2.75"/>
<circle cx="544.2" cy="84.8" r="2.75"/>
<circle cx="544.2" cy="103.7" r="2.75"/>
<circle cx="544.2" cy="114.9" r="2.75"/>
<circle cx="544.2" cy="126.3" r="2.75"/>
<circle cx="544.2" cy="128.5" r="2.75"/>
<circle cx="544.2" cy="134.0" r="2.75"/>
<circle cx="544.2" cy="140.6" r="2.75"/>
<circle cx="544.2" cy="150.8" r="2.75"/>
<circle cx="544.2" cy="189.4" r="2.75"/>
<circle cx="544.2" cy="215.4" r="2.75"/>
<circle cx="555.0" cy="112.4" r="2.75"/>
<circle cx="555.0" cy="121.9" r="2.75"/>
<circle cx="555.0" cy="135.1" r="2.75"/>
<circle cx="555.0" cy="218.1" r="2.75"/>
<circle cx="558.6" cy="115.4" r="2.75"/>
<circle cx="558.6" cy="129.2" r="2.75"/>
<circle cx="558.6" cy="140.2" r="2.75"/>
<circle cx="558.6" cy="143.8" r="2.75"/>
<circle cx="558.6" cy="157.5" r="2.75"/>
<circle cx="558.6" cy="161.5" r="2.75"/>
<circle cx="565.8" cy="97.0" r="2.75"/>
<circle cx="565.8" cy="105.9" r="2.75"/>
<circle cx="565.8" cy="111.7" r="2.75"/>
<circle cx="565.8" cy="113.9" r="2.75"/>
<circle cx="565.8" cy="119.7" r="2.75"/>
<circle cx="565.8" cy="130.7" r="2.75"/>
<circle cx="565.8" cy="134.3" r="2.75"/>
<circle cx="565.8" cy="138.0" r="2.75"/>
<circle cx="565.8" cy="170.8" r="2.75"/>
<circle cx="573.1" cy="76.7" r="2.75"/>
<circle cx="573.1" cy="79.2" r="2.75"/>
<circle cx="573.1" cy="96.5" r="2.75"/>
<circle cx="573.1" cy="101.5" r="2.75"/>
<circle cx="573.1" cy="109.5" r="2.75"/>
<circle cx="573.1" cy="116.1" r="2.75"/>
<circle cx="573.1" cy="127.0" r="2.75"/>
<circle cx="573.1" cy="139.4" r="2.75"/>
<circle cx="573.1" cy="167.5" r="2.75"/>
<circle cx="576.7" cy="64.3" r="2.75"/>
<circle cx="576.7" cy="101.5" r="2.75"/>
<circle cx="576.7" cy="113.2" r="2.75"/>
<circle cx="576.7" cy="122.7" r="2.75"/>
<circle cx="576.7" cy="127.0" r="2.75"/>
<circle cx="576.7" cy="135.8" r="2.75"/>
<circle cx="587.5" cy="77.2" r="2.75"/>
<circle cx="587.5" cy="80.8" r="2.75"/>
<circle cx="587.5" cy="95.6" r="2.75"/>
<circle cx="587.5" cy="103.7" r="2.75"/>
<circle cx="587.5" cy="110.2" r="2.75"/>
<circle cx="587.5" cy="113.5" r="2.75"/>
<circle cx="587.5" cy="117.0" r="2.75"/>
<circle cx="587.5" cy="120.5" r="2.75"/>
<circle cx="587.5" cy="131.4" r="2.75"/>
<circle cx="587.5" cy="135.1" r="2.75"/>
<circle cx="587.5" cy="139.4" r="2.75"/>
<circle cx="587.5" cy="148.2" r="2.75"/>
<circle cx="587.5" cy="151.6" r="2.75"/>
<circle cx="587.5" cy="155.5" r="2.75"/>
<circle cx="587.5" cy="161.9" r="2.75"/>
<circle cx="587.5" cy="168.5" r="2.75"/>
<circle cx="587.5" cy="170.4" r="2.75"/>
<circle cx="587.5" cy="176.2" r="2.75"/>
<circle cx="587.5" cy="178.1" r="2.75"/>
<circle cx="598.3" cy="74.8" r="2.75"/>
<circle cx="598.3" cy="90.6" r="2.75"/>
<circle cx="598.3" cy="121.2" r="2.75"/>
<circle cx="598.3" cy="137.3" r="2.75"/>
<circle cx="598.3" cy="140.9" r="2.75"/>
<circle cx="598.3" cy="154.0" r="2.75"/>
<circle cx="598.3" cy="165.3" r="2.75"/>
<circle cx="598.3" cy="168.2" r="2.75"/>
<circle cx="601.9" cy="111.7" r="2.75"/>
<circle cx="609.1" cy="83.0" r="2.75"/>
<circle cx="609.1" cy="86.2" r="2.75"/>
<circle cx="609.1" cy="105.1" r="2.75"/>
<circle cx="609.1" cy="109.5" r="2.75"/>
<circle cx="609.1" cy="118.3" r="2.75"/>
<circle cx="609.1" cy="124.8" r="2.75"/>
<circle cx="609.1" cy="128.5" r="2.75"/>
<circle cx="609.1" cy="132.1" r="2.75"/>
<circle cx="609.1" cy="135.8" r="2.75"/>
<circle cx="609.1" cy="139.4" r="2.75"/>
<circle cx="616.4" cy="95.1" r="2.75"/>
<circle cx="616.4" cy="104.4" r="2.75"/>
<circle cx="616.4" cy="117.5" r="2.75"/>
<circle cx="616.4" cy="124.8" r="2.75"/>
<circle cx="616.4" cy="135.1" r="2.75"/>
<circle cx="616.4" cy="151.9" r="2.75"/>
<circle cx="616.4" cy="163.6" r="2.75"/>
<circle cx="616.4" cy="185.3" r="2.75"/>
<circle cx="616.4" cy="204.0" r="2.75"/>
<circle cx="620.0" cy="99.3" r="2.75"/>
<circle cx="620.0" cy="106.6" r="2.75"/>
<circle cx="620.0" cy="116.8" r="2.75"/>
<circle cx="620.0" cy="134.3" r="2.75"/>
<circle cx="620.0" cy="157.0" r="2.75"/>
<circle cx="620.0" cy="197.1" r="2.75"/>
<circle cx="620.0" cy="217.9" r="2.75"/>
<circle cx="630.8" cy="86.2" r="2.75"/>
<circle cx="630.8" cy="115.4" r="2.75"/>
<circle cx="630.8" cy="124.8" r="2.75"/>
<circle cx="630.8" cy="128.5" r="2.75"/>
<circle cx="630.8" cy="136.5" r="2.75"/>
<circle cx="630.8" cy="143.1" r="2.75"/>
<circle cx="630.8" cy="146.7" r="2.75"/>
<circle cx="630.8" cy="150.4" r="2.75"/>
<circle cx="630.8" cy="154.8" r="2.75"/>
<circle cx="630.8" cy="161.8" r="2.75"/>
<circle cx="630.8" cy="209.8" r="2.75"/>
<circle cx="630.8" cy="215.7" r="2.75"/>
<circle cx="645.2" cy="119.7" r="2.75"/>
<circle cx="645.2" cy="125.6" r="2.75"/>
<circle cx="645.2" cy="154.8" r="2.75"/>
<circle cx="645.2" cy="158.5" r="2.75"/>
<circle cx="645.2" cy="162.6" r="2.75"/>
<circle cx="645.2" cy="173.3" r="2.75"/>
<circle cx="645.2" cy="177.0" r="2.75"/>
<circle cx="645.2" cy="179.9" r="2.75"/>
<circle cx="645.2" cy="182.5" r="2.75"/>
<circle cx="645.2" cy="190.8" r="2.75"/>
<circle cx="645.2" cy="192.7" r="2.75"/>
<circle cx="645.2" cy="215.7" r="2.75"/>
<circle cx="645.2" cy="217.9" r="2.75"/>
<circle cx="652.4" cy="100.5" r="2.75"/>
<circle cx="652.4" cy="107.8" r="2.75"/>
<circle cx="652.4" cy="130.7" r="2.75"/>
<circle cx="652.4" cy="188.7" r="2.75"/>
<circle cx="652.4" cy="217.6" r="2.75"/>
<circle cx="659.7" cy="118.6" r="2.75"/>
<circle cx="659.7" cy="124.8" r="2.75"/>
<circle cx="659.7" cy="128.2" r="2.75"/>
<circle cx="659.7" cy="139.9" r="2.75"/>
<circle cx="659.7" cy="147.8" r="2.75"/>
<circle cx="659.7" cy="169.7" r="2.75"/>
<circle cx="659.7" cy="180.2" r="2.75"/>
<circle cx="659.7" cy="191.6" r="2.75"/>
<circle cx="659.7" cy="197.1" r="2.75"/>
<circle cx="659.7" cy="199.6" r="2.75"/>
<circle cx="659.7" cy="214.9" r="2.75"/>
<circle cx="659.7" cy="216.4" r="2.75"/>
<circle cx="663.3" cy="104.0" r="2.75"/>
<circle cx="663.3" cy="115.6" r="2.75"/>
<circle cx="663.3" cy="162.8" r="2.75"/>
<circle cx="674.1" cy="115.1" r="2.75"/>
<circle cx="674.1" cy="120.5" r="2.75"/>
<circle cx="674.1" cy="127.0" r="2.75"/>
<circle cx="674.1" cy="132.1" r="2.75"/>
<circle cx="674.1" cy="143.8" r="2.75"/>
<circle cx="674.1" cy="147.2" r="2.75"/>
<circle cx="674.1" cy="194.5" r="2.75"/>
<polygon points="500.9,110.8 505.2,111.2 509.6,111.6 513.9,112.0 518.2,112.5 522.5,113.0 526.9,113.6 531.2,114.2 535.5,114.8 539.9,115.5 544.2,116.2 548.5,116.9 552.9,117.7 557.2,118.5 561.5,119.4 565.8,120.3 570.2,121.2 574.5,122.2 578.8,123.3 583.2,124.4 587.5,125.5 591.8,126.7 596.2,127.9 600.5,129.2 604.8,130.6 609.1,132.0 613.5,133.3 617.8,134.7 622.1,136.1 626.5,137.6 630.8,139.0 635.1,140.5 639.5,141.9 643.8,143.4 648.1,144.9 652.4,146.4 656.8,147.9 661.1,149.4 665.4,150.9 669.8,152.4 674.1,154.0 674.1,170.0 669.8,167.4 665.4,164.8 661.1,162.3 656.8,159.9 652.4,157.6 648.1,155.4 643.8,153.2 639.5,151.2 635.1,149.2 630.8,147.3 626.5,145.5 622.1,143.7 617.8,142.1 613.5,140.5 609.1,139.0 604.8,137.6 600.5,136.2 596.2,134.9 591.8,133.7 587.5,132.5 583.2,131.4 578.8,130.3 574.5,129.2 570.2,128.2 565.8,127.3 561.5,126.4 557.2,125.5 552.9,124.8 548.5,124.0 544.2,123.4 539.9,122.8 535.5,122.3 531.2,121.8 526.9,121.4 522.5,121.1 518.2,120.8 513.9,120.6 509.6,120.5 505.2,120.4 500.9,120.4" fill="#999" fill-opacity="0.4"/>
<polyline points="500.9,115.6 505.2,115.8 509.6,116.0 513.9,116.3 518.2,116.7 522.5,117.1 526.9,117.5 531.2,118.0 535.5,118.5 539.9,119.1 544.2,119.8 548.5,120.5 552.9,121.2 557.2,122.0 561.5,122.9 565.8,123.8 570.2,124.7 574.5,125.7 578.8,126.8 583.2,127.9 587.5,129.0 591.8,130.2 596.2,131.4 600.5,132.7 604.8,134.1 609.1,135.5 613.5,136.9 617.8,138.4 622.1,139.9 626.5,141.5 630.8,143.1 635.1,144.8 639.5,146.5 643.8,148.3 648.1,150.1 652.4,152.0 656.8,153.9 661.1,155.9 665.4,157.9 669.8,159.9 674.1,162.0" fill="none" stroke="#f00" stroke-width="2.6" stroke-linecap="butt" stroke-linejoin="round"/>
<rect x="492.5" y="1.6" width="190.2" height="20.6" fill="#fff" stroke="#3d3d3d" stroke-width="1.25"/>
<path d="M492.5,22.2 V227.3 H682.7 V22.2" fill="none" stroke="#3d3d3d" stroke-width="1.25" stroke-linejoin="miter"/>
<text x="587.6" y="16.0" font-size="10.8" text-anchor="middle" fill="#1a1a1a"><tspan font-style="italic">EPCAM</tspan></text>
<line x1="489.0" x2="492.5" y1="218.3" y2="218.3" stroke="#333" stroke-width="1.25"/>
<text x="486.1" y="222.1" font-size="10.7" text-anchor="end" fill="#4d4d4d">0</text>
<line x1="489.0" x2="492.5" y1="155.5" y2="155.5" stroke="#333" stroke-width="1.25"/>
<text x="486.1" y="159.3" font-size="10.7" text-anchor="end" fill="#4d4d4d">1000</text>
<line x1="489.0" x2="492.5" y1="92.8" y2="92.8" stroke="#333" stroke-width="1.25"/>
<text x="486.1" y="96.6" font-size="10.7" text-anchor="end" fill="#4d4d4d">2000</text>
<line x1="489.0" x2="492.5" y1="30.0" y2="30.0" stroke="#333" stroke-width="1.25"/>
<text x="486.1" y="33.8" font-size="10.7" text-anchor="end" fill="#4d4d4d">3000</text>
<line x1="500.9" x2="500.9" y1="227.3" y2="230.8" stroke="#333" stroke-width="1.25"/>
<text x="500.9" y="241.3" font-size="10.7" text-anchor="middle" fill="#4d4d4d">0.00</text>
<line x1="544.2" x2="544.2" y1="227.3" y2="230.8" stroke="#333" stroke-width="1.25"/>
<text x="544.2" y="241.3" font-size="10.7" text-anchor="middle" fill="#4d4d4d">0.25</text>
<line x1="587.5" x2="587.5" y1="227.3" y2="230.8" stroke="#333" stroke-width="1.25"/>
<text x="587.5" y="241.3" font-size="10.7" text-anchor="middle" fill="#4d4d4d">0.50</text>
<line x1="630.8" x2="630.8" y1="227.3" y2="230.8" stroke="#333" stroke-width="1.25"/>
<text x="630.8" y="241.3" font-size="10.7" text-anchor="middle" fill="#4d4d4d">0.75</text>
<line x1="674.1" x2="674.1" y1="227.3" y2="230.8" stroke="#333" stroke-width="1.25"/>
<text x="674.1" y="241.3" font-size="10.7" text-anchor="middle" fill="#4d4d4d">1.00</text>
<text x="675.3" y="34.0" font-size="10.7" text-anchor="end" fill="#111">p &lt; 0.0001</text>
</g>
<path fill="none" stroke="#000" stroke-width="2.6" d="M476.3,7.5 C475.4,7.2 474.5,7.1 473.6,7.1 C470.2,7.1 468.2,9.1 468.2,12.05 C468.2,15.0 470.2,17.0 473.6,17.0 C474.5,17.0 475.5,16.9 476.3,16.6"/>
<g id="pD">
<circle cx="49.9" cy="306.0" r="2.75"/>
<circle cx="49.9" cy="320.6" r="2.75"/>
<circle cx="49.9" cy="329.0" r="2.75"/>
<circle cx="49.9" cy="336.0" r="2.75"/>
<circle cx="49.9" cy="344.3" r="2.75"/>
<circle cx="49.9" cy="347.6" r="2.75"/>
<circle cx="49.9" cy="359.2" r="2.75"/>
<circle cx="49.9" cy="362.5" r="2.75"/>
<circle cx="49.9" cy="366.0" r="2.75"/>
<circle cx="49.9" cy="369.5" r="2.75"/>
<circle cx="49.9" cy="373.0" r="2.75"/>
<circle cx="49.9" cy="376.5" r="2.75"/>
<circle cx="49.9" cy="379.0" r="2.75"/>
<circle cx="49.9" cy="387.7" r="2.75"/>
<circle cx="49.9" cy="391.4" r="2.75"/>
<circle cx="49.9" cy="439.1" r="2.75"/>
<circle cx="49.9" cy="463.5" r="2.75"/>
<circle cx="60.7" cy="314.4" r="2.75"/>
<circle cx="60.7" cy="337.4" r="2.75"/>
<circle cx="60.7" cy="339.6" r="2.75"/>
<circle cx="60.7" cy="344.3" r="2.75"/>
<circle cx="60.7" cy="347.6" r="2.75"/>
<circle cx="60.7" cy="351.9" r="2.75"/>
<circle cx="60.7" cy="362.9" r="2.75"/>
<circle cx="60.7" cy="367.3" r="2.75"/>
<circle cx="60.7" cy="371.7" r="2.75"/>
<circle cx="60.7" cy="375.3" r="2.75"/>
<circle cx="60.7" cy="379.7" r="2.75"/>
<circle cx="60.7" cy="384.1" r="2.75"/>
<circle cx="60.7" cy="457.6" r="2.75"/>
<circle cx="64.3" cy="313.3" r="2.75"/>
<circle cx="64.3" cy="328.7" r="2.75"/>
<circle cx="64.3" cy="345.0" r="2.75"/>
<circle cx="64.3" cy="349.8" r="2.75"/>
<circle cx="64.3" cy="360.0" r="2.75"/>
<circle cx="64.3" cy="364.4" r="2.75"/>
<circle cx="64.3" cy="368.7" r="2.75"/>
<circle cx="64.3" cy="375.3" r="2.75"/>
<circle cx="64.3" cy="384.4" r="2.75"/>
<circle cx="64.3" cy="397.2" r="2.75"/>
<circle cx="71.5" cy="299.9" r="2.75"/>
<circle cx="71.5" cy="314.4" r="2.75"/>
<circle cx="71.5" cy="327.9" r="2.75"/>
<circle cx="71.5" cy="338.4" r="2.75"/>
<circle cx="71.5" cy="356.3" r="2.75"/>
<circle cx="71.5" cy="359.2" r="2.75"/>
<circle cx="71.5" cy="362.9" r="2.75"/>
<circle cx="71.5" cy="366.5" r="2.75"/>
<circle cx="71.5" cy="370.2" r="2.75"/>
<circle cx="71.5" cy="380.4" r="2.75"/>
<circle cx="71.5" cy="466.0" r="2.75"/>
<circle cx="78.8" cy="345.8" r="2.75"/>
<circle cx="78.8" cy="375.6" r="2.75"/>
<circle cx="78.8" cy="392.8" r="2.75"/>
<circle cx="78.8" cy="409.0" r="2.75"/>
<circle cx="82.4" cy="323.3" r="2.75"/>
<circle cx="82.4" cy="339.3" r="2.75"/>
<circle cx="82.4" cy="354.9" r="2.75"/>
<circle cx="82.4" cy="360.0" r="2.75"/>
<circle cx="82.4" cy="365.1" r="2.75"/>
<circle cx="82.4" cy="396.5" r="2.75"/>
<circle cx="82.4" cy="417.5" r="2.75"/>
<circle cx="93.2" cy="315.5" r="2.75"/>
<circle cx="93.2" cy="328.7" r="2.75"/>
<circle cx="93.2" cy="354.1" r="2.75"/>
<circle cx="93.2" cy="356.3" r="2.75"/>
<circle cx="93.2" cy="363.6" r="2.75"/>
<circle cx="93.2" cy="367.3" r="2.75"/>
<circle cx="93.2" cy="376.8" r="2.75"/>
<circle cx="93.2" cy="388.9" r="2.75"/>
<circle cx="93.2" cy="398.7" r="2.75"/>
<circle cx="93.2" cy="412.8" r="2.75"/>
<circle cx="93.2" cy="442.0" r="2.75"/>
<circle cx="93.2" cy="465.4" r="2.75"/>
<circle cx="104.0" cy="341.4" r="2.75"/>
<circle cx="104.0" cy="377.5" r="2.75"/>
<circle cx="104.0" cy="389.9" r="2.75"/>
<circle cx="104.0" cy="392.8" r="2.75"/>
<circle cx="104.0" cy="467.1" r="2.75"/>
<circle cx="107.6" cy="344.7" r="2.75"/>
<circle cx="107.6" cy="350.0" r="2.75"/>
<circle cx="107.6" cy="365.1" r="2.75"/>
<circle cx="107.6" cy="379.7" r="2.75"/>
<circle cx="107.6" cy="382.6" r="2.75"/>
<circle cx="107.6" cy="392.4" r="2.75"/>
<circle cx="107.6" cy="398.7" r="2.75"/>
<circle cx="107.6" cy="418.9" r="2.75"/>
<circle cx="107.6" cy="434.7" r="2.75"/>
<circle cx="114.8" cy="327.2" r="2.75"/>
<circle cx="114.8" cy="333.8" r="2.75"/>
<circle cx="114.8" cy="336.7" r="2.75"/>
<circle cx="114.8" cy="339.6" r="2.75"/>
<circle cx="114.8" cy="343.6" r="2.75"/>
<circle cx="114.8" cy="351.2" r="2.75"/>
<circle cx="114.8" cy="364.1" r="2.75"/>
<circle cx="114.8" cy="386.3" r="2.75"/>
<circle cx="114.8" cy="388.4" r="2.75"/>
<circle cx="114.8" cy="400.1" r="2.75"/>
<circle cx="114.8" cy="404.5" r="2.75"/>
<circle cx="114.8" cy="421.4" r="2.75"/>
<circle cx="122.1" cy="305.3" r="2.75"/>
<circle cx="122.1" cy="344.3" r="2.75"/>
<circle cx="122.1" cy="354.9" r="2.75"/>
<circle cx="122.1" cy="359.7" r="2.75"/>
<circle cx="122.1" cy="366.5" r="2.75"/>
<circle cx="122.1" cy="372.4" r="2.75"/>
<circle cx="122.1" cy="379.0" r="2.75"/>
<circle cx="122.1" cy="384.1" r="2.75"/>
<circle cx="122.1" cy="388.4" r="2.75"/>
<circle cx="122.1" cy="391.4" r="2.75"/>
<circle cx="122.1" cy="396.5" r="2.75"/>
<circle cx="122.1" cy="413.0" r="2.75"/>
<circle cx="125.7" cy="293.2" r="2.75"/>
<circle cx="125.7" cy="311.6" r="2.75"/>
<circle cx="125.7" cy="344.3" r="2.75"/>
<circle cx="125.7" cy="368.0" r="2.75"/>
<circle cx="125.7" cy="373.8" r="2.75"/>
<circle cx="125.7" cy="391.4" r="2.75"/>
<circle cx="125.7" cy="403.5" r="2.75"/>
<circle cx="125.7" cy="410.5" r="2.75"/>
<circle cx="125.7" cy="416.0" r="2.75"/>
<circle cx="136.5" cy="292.9" r="2.75"/>
<circle cx="136.5" cy="322.8" r="2.75"/>
<circle cx="136.5" cy="341.4" r="2.75"/>
<circle cx="136.5" cy="350.5" r="2.75"/>
<circle cx="136.5" cy="357.1" r="2.75"/>
<circle cx="136.5" cy="371.7" r="2.75"/>
<circle cx="136.5" cy="377.5" r="2.75"/>
<circle cx="136.5" cy="381.9" r="2.75"/>
<circle cx="136.5" cy="386.3" r="2.75"/>
<circle cx="136.5" cy="390.6" r="2.75"/>
<circle cx="136.5" cy="394.3" r="2.75"/>
<circle cx="136.5" cy="397.2" r="2.75"/>
<circle cx="136.5" cy="400.9" r="2.75"/>
<circle cx="136.5" cy="409.4" r="2.75"/>
<circle cx="136.5" cy="413.9" r="2.75"/>
<circle cx="136.5" cy="417.5" r="2.75"/>
<circle cx="136.5" cy="420.4" r="2.75"/>
<circle cx="136.5" cy="422.6" r="2.75"/>
<circle cx="136.5" cy="426.2" r="2.75"/>
<circle cx="136.5" cy="442.7" r="2.75"/>
<circle cx="147.3" cy="280.5" r="2.75"/>
<circle cx="147.3" cy="309.0" r="2.75"/>
<circle cx="147.3" cy="336.0" r="2.75"/>
<circle cx="147.3" cy="339.5" r="2.75"/>
<circle cx="147.3" cy="356.0" r="2.75"/>
<circle cx="147.3" cy="385.5" r="2.75"/>
<circle cx="147.3" cy="423.3" r="2.75"/>
<circle cx="147.3" cy="431.6" r="2.75"/>
<circle cx="147.3" cy="439.8" r="2.75"/>
<circle cx="150.9" cy="314.5" r="2.75"/>
<circle cx="150.9" cy="387.7" r="2.75"/>
<circle cx="158.2" cy="325.0" r="2.75"/>
<circle cx="158.2" cy="351.9" r="2.75"/>
<circle cx="158.2" cy="355.6" r="2.75"/>
<circle cx="158.2" cy="359.2" r="2.75"/>
<circle cx="158.2" cy="362.9" r="2.75"/>
<circle cx="158.2" cy="367.3" r="2.75"/>
<circle cx="158.2" cy="376.5" r="2.75"/>
<circle cx="158.2" cy="391.4" r="2.75"/>
<circle cx="165.4" cy="362.2" r="2.75"/>
<circle cx="165.4" cy="382.2" r="2.75"/>
<circle cx="165.4" cy="392.8" r="2.75"/>
<circle cx="165.4" cy="398.7" r="2.75"/>
<circle cx="165.4" cy="408.9" r="2.75"/>
<circle cx="165.4" cy="413.2" r="2.75"/>
<circle cx="165.4" cy="418.2" r="2.75"/>
<circle cx="165.4" cy="424.1" r="2.75"/>
<circle cx="165.4" cy="435.7" r="2.75"/>
<circle cx="165.4" cy="454.0" r="2.75"/>
<circle cx="165.4" cy="458.4" r="2.75"/>
<circle cx="169.0" cy="311.1" r="2.75"/>
<circle cx="169.0" cy="313.3" r="2.75"/>
<circle cx="169.0" cy="361.9" r="2.75"/>
<circle cx="169.0" cy="381.6" r="2.75"/>
<circle cx="169.0" cy="418.2" r="2.75"/>
<circle cx="169.0" cy="438.9" r="2.75"/>
<circle cx="169.0" cy="451.8" r="2.75"/>
<circle cx="169.0" cy="466.8" r="2.75"/>
<circle cx="179.8" cy="376.8" r="2.75"/>
<circle cx="179.8" cy="380.4" r="2.75"/>
<circle cx="179.8" cy="384.8" r="2.75"/>
<circle cx="179.8" cy="392.8" r="2.75"/>
<circle cx="179.8" cy="396.5" r="2.75"/>
<circle cx="179.8" cy="406.0" r="2.75"/>
<circle cx="179.8" cy="409.5" r="2.75"/>
<circle cx="179.8" cy="413.0" r="2.75"/>
<circle cx="179.8" cy="415.5" r="2.75"/>
<circle cx="179.8" cy="422.6" r="2.75"/>
<circle cx="179.8" cy="426.2" r="2.75"/>
<circle cx="179.8" cy="430.6" r="2.75"/>
<circle cx="179.8" cy="458.8" r="2.75"/>
<circle cx="179.8" cy="465.7" r="2.75"/>
<circle cx="194.2" cy="396.5" r="2.75"/>
<circle cx="194.2" cy="399.4" r="2.75"/>
<circle cx="194.2" cy="418.9" r="2.75"/>
<circle cx="194.2" cy="421.9" r="2.75"/>
<circle cx="194.2" cy="429.9" r="2.75"/>
<circle cx="194.2" cy="432.8" r="2.75"/>
<circle cx="194.2" cy="435.7" r="2.75"/>
<circle cx="194.2" cy="450.6" r="2.75"/>
<circle cx="194.2" cy="464.2" r="2.75"/>
<circle cx="194.2" cy="467.1" r="2.75"/>
<circle cx="201.4" cy="351.5" r="2.75"/>
<circle cx="201.4" cy="368.3" r="2.75"/>
<circle cx="201.4" cy="407.0" r="2.75"/>
<circle cx="201.4" cy="443.0" r="2.75"/>
<circle cx="201.4" cy="466.4" r="2.75"/>
<circle cx="208.7" cy="343.7" r="2.75"/>
<circle cx="208.7" cy="360.0" r="2.75"/>
<circle cx="208.7" cy="368.0" r="2.75"/>
<circle cx="208.7" cy="397.2" r="2.75"/>
<circle cx="208.7" cy="403.0" r="2.75"/>
<circle cx="208.7" cy="424.4" r="2.75"/>
<circle cx="208.7" cy="438.9" r="2.75"/>
<circle cx="208.7" cy="456.2" r="2.75"/>
<circle cx="208.7" cy="459.1" r="2.75"/>
<circle cx="208.7" cy="464.9" r="2.75"/>
<circle cx="208.7" cy="466.4" r="2.75"/>
<circle cx="212.3" cy="318.9" r="2.75"/>
<circle cx="212.3" cy="323.6" r="2.75"/>
<circle cx="212.3" cy="422.6" r="2.75"/>
<circle cx="223.1" cy="372.4" r="2.75"/>
<circle cx="223.1" cy="378.2" r="2.75"/>
<circle cx="223.1" cy="406.0" r="2.75"/>
<circle cx="223.1" cy="409.6" r="2.75"/>
<circle cx="223.1" cy="414.5" r="2.75"/>
<circle cx="223.1" cy="450.3" r="2.75"/>
<polygon points="49.9,358.2 54.2,358.9 58.6,359.5 62.9,360.3 67.2,361.1 71.5,361.9 75.9,362.8 80.2,363.7 84.5,364.6 88.9,365.7 93.2,366.7 97.5,367.8 101.9,368.9 106.2,370.1 110.5,371.3 114.8,372.6 119.2,373.9 123.5,375.2 127.8,376.6 132.2,378.1 136.5,379.6 140.8,381.2 145.2,382.8 149.5,384.4 153.8,386.1 158.2,387.8 162.5,389.5 166.8,391.2 171.1,392.9 175.5,394.6 179.8,396.2 184.1,397.9 188.5,399.5 192.8,401.1 197.1,402.7 201.4,404.3 205.8,405.8 210.1,407.4 214.4,408.9 218.8,410.4 223.1,411.8 223.1,431.8 218.8,428.8 214.4,425.9 210.1,423.0 205.8,420.2 201.4,417.5 197.1,414.9 192.8,412.4 188.5,409.9 184.1,407.5 179.8,405.2 175.5,403.0 171.1,400.9 166.8,398.9 162.5,396.9 158.2,395.1 153.8,393.3 149.5,391.6 145.2,390.0 140.8,388.4 136.5,386.8 132.2,385.3 127.8,383.8 123.5,382.4 119.2,381.1 114.8,379.8 110.5,378.5 106.2,377.3 101.9,376.2 97.5,375.2 93.2,374.2 88.9,373.3 84.5,372.5 80.2,371.8 75.9,371.2 71.5,370.7 67.2,370.2 62.9,369.8 58.6,369.5 54.2,369.3 49.9,369.2" fill="#999" fill-opacity="0.4"/>
<polyline points="49.9,363.7 54.2,364.1 58.6,364.5 62.9,365.0 67.2,365.6 71.5,366.3 75.9,367.0 80.2,367.8 84.5,368.6 88.9,369.5 93.2,370.5 97.5,371.5 101.9,372.6 106.2,373.7 110.5,374.9 114.8,376.2 119.2,377.5 123.5,378.8 127.8,380.2 132.2,381.7 136.5,383.2 140.8,384.8 145.2,386.4 149.5,388.0 153.8,389.7 158.2,391.4 162.5,393.2 166.8,395.0 171.1,396.9 175.5,398.8 179.8,400.7 184.1,402.7 188.5,404.7 192.8,406.7 197.1,408.8 201.4,410.9 205.8,413.0 210.1,415.2 214.4,417.4 218.8,419.6 223.1,421.8" fill="none" stroke="#f00" stroke-width="2.6" stroke-linecap="butt" stroke-linejoin="round"/>
<rect x="41.45" y="250.65" width="190.1" height="20.4" fill="#fff" stroke="#3d3d3d" stroke-width="1.25"/>
<path d="M41.45,271.05 V476.3 H231.55 V271.05" fill="none" stroke="#3d3d3d" stroke-width="1.25" stroke-linejoin="miter"/>
<text x="136.5" y="265.1" font-size="10.8" text-anchor="middle" fill="#1a1a1a"><tspan font-style="italic">VIL1</tspan></text>
<line x1="38.0" x2="41.5" y1="467.0" y2="467.0" stroke="#333" stroke-width="1.25"/>
<text x="35.1" y="470.8" font-size="10.7" text-anchor="end" fill="#4d4d4d">0</text>
<line x1="38.0" x2="41.5" y1="425.3" y2="425.3" stroke="#333" stroke-width="1.25"/>
<text x="35.1" y="429.1" font-size="10.7" text-anchor="end" fill="#4d4d4d">50</text>
<line x1="38.0" x2="41.5" y1="383.6" y2="383.6" stroke="#333" stroke-width="1.25"/>
<text x="35.1" y="387.4" font-size="10.7" text-anchor="end" fill="#4d4d4d">100</text>
<line x1="38.0" x2="41.5" y1="341.9" y2="341.9" stroke="#333" stroke-width="1.25"/>
<text x="35.1" y="345.7" font-size="10.7" text-anchor="end" fill="#4d4d4d">150</text>
<line x1="38.0" x2="41.5" y1="300.2" y2="300.2" stroke="#333" stroke-width="1.25"/>
<text x="35.1" y="304.0" font-size="10.7" text-anchor="end" fill="#4d4d4d">200</text>
<line x1="49.9" x2="49.9" y1="476.3" y2="479.8" stroke="#333" stroke-width="1.25"/>
<text x="49.9" y="490.3" font-size="10.7" text-anchor="middle" fill="#4d4d4d">0.00</text>
<line x1="93.2" x2="93.2" y1="476.3" y2="479.8" stroke="#333" stroke-width="1.25"/>
<text x="93.2" y="490.3" font-size="10.7" text-anchor="middle" fill="#4d4d4d">0.25</text>
<line x1="136.5" x2="136.5" y1="476.3" y2="479.8" stroke="#333" stroke-width="1.25"/>
<text x="136.5" y="490.3" font-size="10.7" text-anchor="middle" fill="#4d4d4d">0.50</text>
<line x1="179.8" x2="179.8" y1="476.3" y2="479.8" stroke="#333" stroke-width="1.25"/>
<text x="179.8" y="490.3" font-size="10.7" text-anchor="middle" fill="#4d4d4d">0.75</text>
<line x1="223.1" x2="223.1" y1="476.3" y2="479.8" stroke="#333" stroke-width="1.25"/>
<text x="223.1" y="490.3" font-size="10.7" text-anchor="middle" fill="#4d4d4d">1.00</text>
<text x="221.0" y="282.9" font-size="10.7" text-anchor="end" fill="#111">p &lt; 0.0001</text>
</g>
<path fill-rule="evenodd" d="M19.2,254.7 H23.0 C27.5,254.7 29.7,257.0 29.7,260.3 C29.7,263.9 27.4,266.2 22.8,266.2 H19.2 Z M21.8,256.8 V264.1 H22.9 C25.6,264.1 26.9,262.8 26.9,260.4 C26.9,258.0 25.6,256.8 23.0,256.8 Z"/>
<g id="pE">
<circle cx="273.9" cy="329.7" r="2.75"/>
<circle cx="273.9" cy="359.2" r="2.75"/>
<circle cx="273.9" cy="386.7" r="2.75"/>
<circle cx="273.9" cy="394.3" r="2.75"/>
<circle cx="273.9" cy="406.7" r="2.75"/>
<circle cx="273.9" cy="409.6" r="2.75"/>
<circle cx="273.9" cy="414.0" r="2.75"/>
<circle cx="273.9" cy="418.0" r="2.75"/>
<circle cx="273.9" cy="421.5" r="2.75"/>
<circle cx="273.9" cy="425.0" r="2.75"/>
<circle cx="273.9" cy="428.5" r="2.75"/>
<circle cx="273.9" cy="432.0" r="2.75"/>
<circle cx="273.9" cy="435.5" r="2.75"/>
<circle cx="273.9" cy="439.0" r="2.75"/>
<circle cx="273.9" cy="442.5" r="2.75"/>
<circle cx="273.9" cy="446.0" r="2.75"/>
<circle cx="273.9" cy="449.5" r="2.75"/>
<circle cx="273.9" cy="451.8" r="2.75"/>
<circle cx="273.9" cy="462.3" r="2.75"/>
<circle cx="284.7" cy="326.5" r="2.75"/>
<circle cx="284.7" cy="366.8" r="2.75"/>
<circle cx="284.7" cy="380.4" r="2.75"/>
<circle cx="284.7" cy="383.3" r="2.75"/>
<circle cx="284.7" cy="391.1" r="2.75"/>
<circle cx="284.7" cy="418.2" r="2.75"/>
<circle cx="284.7" cy="427.7" r="2.75"/>
<circle cx="284.7" cy="431.4" r="2.75"/>
<circle cx="284.7" cy="440.4" r="2.75"/>
<circle cx="288.3" cy="397.5" r="2.75"/>
<circle cx="288.3" cy="424.1" r="2.75"/>
<circle cx="288.3" cy="432.8" r="2.75"/>
<circle cx="288.3" cy="439.4" r="2.75"/>
<circle cx="288.3" cy="443.0" r="2.75"/>
<circle cx="288.3" cy="446.7" r="2.75"/>
<circle cx="288.3" cy="450.3" r="2.75"/>
<circle cx="288.3" cy="454.7" r="2.75"/>
<circle cx="288.3" cy="463.5" r="2.75"/>
<circle cx="295.5" cy="314.1" r="2.75"/>
<circle cx="295.5" cy="339.2" r="2.75"/>
<circle cx="295.5" cy="347.6" r="2.75"/>
<circle cx="295.5" cy="358.8" r="2.75"/>
<circle cx="295.5" cy="375.3" r="2.75"/>
<circle cx="295.5" cy="392.8" r="2.75"/>
<circle cx="295.5" cy="399.4" r="2.75"/>
<circle cx="295.5" cy="403.0" r="2.75"/>
<circle cx="295.5" cy="410.0" r="2.75"/>
<circle cx="295.5" cy="413.6" r="2.75"/>
<circle cx="295.5" cy="427.0" r="2.75"/>
<circle cx="295.5" cy="430.6" r="2.75"/>
<circle cx="295.5" cy="434.3" r="2.75"/>
<circle cx="295.5" cy="437.9" r="2.75"/>
<circle cx="295.5" cy="441.6" r="2.75"/>
<circle cx="302.8" cy="335.2" r="2.75"/>
<circle cx="302.8" cy="401.6" r="2.75"/>
<circle cx="302.8" cy="407.6" r="2.75"/>
<circle cx="302.8" cy="421.9" r="2.75"/>
<circle cx="306.4" cy="305.6" r="2.75"/>
<circle cx="306.4" cy="327.9" r="2.75"/>
<circle cx="306.4" cy="337.1" r="2.75"/>
<circle cx="306.4" cy="412.8" r="2.75"/>
<circle cx="306.4" cy="426.2" r="2.75"/>
<circle cx="306.4" cy="467.1" r="2.75"/>
<circle cx="317.2" cy="344.4" r="2.75"/>
<circle cx="317.2" cy="357.4" r="2.75"/>
<circle cx="317.2" cy="366.5" r="2.75"/>
<circle cx="317.2" cy="370.2" r="2.75"/>
<circle cx="317.2" cy="380.1" r="2.75"/>
<circle cx="317.2" cy="385.5" r="2.75"/>
<circle cx="317.2" cy="388.4" r="2.75"/>
<circle cx="317.2" cy="420.7" r="2.75"/>
<circle cx="317.2" cy="429.2" r="2.75"/>
<circle cx="317.2" cy="431.4" r="2.75"/>
<circle cx="317.2" cy="443.8" r="2.75"/>
<circle cx="317.2" cy="447.1" r="2.75"/>
<circle cx="328.0" cy="310.4" r="2.75"/>
<circle cx="328.0" cy="332.8" r="2.75"/>
<circle cx="328.0" cy="355.6" r="2.75"/>
<circle cx="331.6" cy="350.5" r="2.75"/>
<circle cx="331.6" cy="355.6" r="2.75"/>
<circle cx="331.6" cy="376.0" r="2.75"/>
<circle cx="331.6" cy="387.7" r="2.75"/>
<circle cx="331.6" cy="396.9" r="2.75"/>
<circle cx="331.6" cy="412.3" r="2.75"/>
<circle cx="331.6" cy="419.7" r="2.75"/>
<circle cx="331.6" cy="424.1" r="2.75"/>
<circle cx="338.8" cy="304.9" r="2.75"/>
<circle cx="338.8" cy="323.3" r="2.75"/>
<circle cx="338.8" cy="338.9" r="2.75"/>
<circle cx="338.8" cy="347.1" r="2.75"/>
<circle cx="338.8" cy="355.6" r="2.75"/>
<circle cx="338.8" cy="364.1" r="2.75"/>
<circle cx="338.8" cy="378.7" r="2.75"/>
<circle cx="338.8" cy="385.5" r="2.75"/>
<circle cx="338.8" cy="395.3" r="2.75"/>
<circle cx="338.8" cy="414.0" r="2.75"/>
<circle cx="338.8" cy="418.9" r="2.75"/>
<circle cx="338.8" cy="431.4" r="2.75"/>
<circle cx="338.8" cy="437.2" r="2.75"/>
<circle cx="338.8" cy="455.0" r="2.75"/>
<circle cx="346.1" cy="333.8" r="2.75"/>
<circle cx="346.1" cy="351.5" r="2.75"/>
<circle cx="346.1" cy="357.1" r="2.75"/>
<circle cx="346.1" cy="376.0" r="2.75"/>
<circle cx="346.1" cy="392.1" r="2.75"/>
<circle cx="346.1" cy="395.0" r="2.75"/>
<circle cx="346.1" cy="408.0" r="2.75"/>
<circle cx="346.1" cy="427.3" r="2.75"/>
<circle cx="349.7" cy="334.2" r="2.75"/>
<circle cx="349.7" cy="400.9" r="2.75"/>
<circle cx="349.7" cy="423.3" r="2.75"/>
<circle cx="349.7" cy="437.2" r="2.75"/>
<circle cx="349.7" cy="443.0" r="2.75"/>
<circle cx="349.7" cy="448.6" r="2.75"/>
<circle cx="360.5" cy="288.5" r="2.75"/>
<circle cx="360.5" cy="314.4" r="2.75"/>
<circle cx="360.5" cy="319.2" r="2.75"/>
<circle cx="360.5" cy="325.3" r="2.75"/>
<circle cx="360.5" cy="338.4" r="2.75"/>
<circle cx="360.5" cy="342.2" r="2.75"/>
<circle cx="360.5" cy="360.0" r="2.75"/>
<circle cx="360.5" cy="363.5" r="2.75"/>
<circle cx="360.5" cy="367.0" r="2.75"/>
<circle cx="360.5" cy="370.5" r="2.75"/>
<circle cx="360.5" cy="374.0" r="2.75"/>
<circle cx="360.5" cy="377.5" r="2.75"/>
<circle cx="360.5" cy="387.0" r="2.75"/>
<circle cx="360.5" cy="397.9" r="2.75"/>
<circle cx="360.5" cy="404.5" r="2.75"/>
<circle cx="360.5" cy="409.6" r="2.75"/>
<circle cx="360.5" cy="413.0" r="2.75"/>
<circle cx="360.5" cy="420.4" r="2.75"/>
<circle cx="360.5" cy="424.1" r="2.75"/>
<circle cx="360.5" cy="427.7" r="2.75"/>
<circle cx="360.5" cy="431.4" r="2.75"/>
<circle cx="360.5" cy="433.5" r="2.75"/>
<circle cx="360.5" cy="438.9" r="2.75"/>
<circle cx="371.3" cy="316.7" r="2.75"/>
<circle cx="371.3" cy="362.6" r="2.75"/>
<circle cx="371.3" cy="412.5" r="2.75"/>
<circle cx="371.3" cy="415.3" r="2.75"/>
<circle cx="371.3" cy="424.1" r="2.75"/>
<circle cx="371.3" cy="429.9" r="2.75"/>
<circle cx="371.3" cy="435.7" r="2.75"/>
<circle cx="371.3" cy="438.9" r="2.75"/>
<circle cx="374.9" cy="283.4" r="2.75"/>
<circle cx="374.9" cy="430.6" r="2.75"/>
<circle cx="382.1" cy="333.8" r="2.75"/>
<circle cx="382.1" cy="335.6" r="2.75"/>
<circle cx="382.1" cy="353.0" r="2.75"/>
<circle cx="382.1" cy="375.6" r="2.75"/>
<circle cx="382.1" cy="407.6" r="2.75"/>
<circle cx="382.1" cy="417.5" r="2.75"/>
<circle cx="382.1" cy="424.1" r="2.75"/>
<circle cx="382.1" cy="429.2" r="2.75"/>
<circle cx="382.1" cy="444.8" r="2.75"/>
<circle cx="382.1" cy="448.1" r="2.75"/>
<circle cx="382.1" cy="454.3" r="2.75"/>
<circle cx="389.4" cy="316.5" r="2.75"/>
<circle cx="389.4" cy="321.4" r="2.75"/>
<circle cx="389.4" cy="326.5" r="2.75"/>
<circle cx="389.4" cy="339.6" r="2.75"/>
<circle cx="389.4" cy="345.0" r="2.75"/>
<circle cx="389.4" cy="355.6" r="2.75"/>
<circle cx="389.4" cy="363.2" r="2.75"/>
<circle cx="389.4" cy="379.2" r="2.75"/>
<circle cx="389.4" cy="389.2" r="2.75"/>
<circle cx="389.4" cy="413.8" r="2.75"/>
<circle cx="389.4" cy="417.5" r="2.75"/>
<circle cx="389.4" cy="421.9" r="2.75"/>
<circle cx="389.4" cy="429.6" r="2.75"/>
<circle cx="389.4" cy="452.1" r="2.75"/>
<circle cx="393.0" cy="324.3" r="2.75"/>
<circle cx="393.0" cy="350.1" r="2.75"/>
<circle cx="393.0" cy="383.6" r="2.75"/>
<circle cx="393.0" cy="402.0" r="2.75"/>
<circle cx="393.0" cy="409.5" r="2.75"/>
<circle cx="393.0" cy="419.2" r="2.75"/>
<circle cx="403.8" cy="280.5" r="2.75"/>
<circle cx="403.8" cy="291.9" r="2.75"/>
<circle cx="403.8" cy="330.9" r="2.75"/>
<circle cx="403.8" cy="335.7" r="2.75"/>
<circle cx="403.8" cy="348.3" r="2.75"/>
<circle cx="403.8" cy="351.9" r="2.75"/>
<circle cx="403.8" cy="357.8" r="2.75"/>
<circle cx="403.8" cy="366.1" r="2.75"/>
<circle cx="403.8" cy="372.4" r="2.75"/>
<circle cx="403.8" cy="376.0" r="2.75"/>
<circle cx="403.8" cy="380.1" r="2.75"/>
<circle cx="403.8" cy="390.2" r="2.75"/>
<circle cx="403.8" cy="399.4" r="2.75"/>
<circle cx="403.8" cy="403.0" r="2.75"/>
<circle cx="403.8" cy="437.5" r="2.75"/>
<circle cx="403.8" cy="448.1" r="2.75"/>
<circle cx="418.2" cy="312.2" r="2.75"/>
<circle cx="418.2" cy="347.6" r="2.75"/>
<circle cx="418.2" cy="349.5" r="2.75"/>
<circle cx="418.2" cy="378.2" r="2.75"/>
<circle cx="418.2" cy="383.0" r="2.75"/>
<circle cx="418.2" cy="395.0" r="2.75"/>
<circle cx="418.2" cy="400.6" r="2.75"/>
<circle cx="418.2" cy="403.8" r="2.75"/>
<circle cx="418.2" cy="407.5" r="2.75"/>
<circle cx="418.2" cy="417.9" r="2.75"/>
<circle cx="418.2" cy="420.4" r="2.75"/>
<circle cx="425.4" cy="297.3" r="2.75"/>
<circle cx="425.4" cy="385.5" r="2.75"/>
<circle cx="425.4" cy="387.7" r="2.75"/>
<circle cx="425.4" cy="393.8" r="2.75"/>
<circle cx="432.7" cy="300.5" r="2.75"/>
<circle cx="432.7" cy="315.8" r="2.75"/>
<circle cx="432.7" cy="329.4" r="2.75"/>
<circle cx="432.7" cy="338.4" r="2.75"/>
<circle cx="432.7" cy="345.4" r="2.75"/>
<circle cx="432.7" cy="349.0" r="2.75"/>
<circle cx="432.7" cy="355.9" r="2.75"/>
<circle cx="432.7" cy="372.4" r="2.75"/>
<circle cx="432.7" cy="381.1" r="2.75"/>
<circle cx="432.7" cy="418.5" r="2.75"/>
<circle cx="432.7" cy="432.5" r="2.75"/>
<circle cx="436.3" cy="390.9" r="2.75"/>
<circle cx="436.3" cy="395.7" r="2.75"/>
<circle cx="436.3" cy="421.6" r="2.75"/>
<circle cx="436.3" cy="428.1" r="2.75"/>
<circle cx="447.1" cy="368.7" r="2.75"/>
<circle cx="447.1" cy="373.8" r="2.75"/>
<circle cx="447.1" cy="380.4" r="2.75"/>
<circle cx="447.1" cy="392.8" r="2.75"/>
<circle cx="447.1" cy="403.0" r="2.75"/>
<circle cx="447.1" cy="409.2" r="2.75"/>
<polygon points="273.9,413.0 278.2,410.2 282.6,407.4 286.9,404.8 291.2,402.3 295.5,400.0 299.9,397.7 304.2,395.5 308.5,393.5 312.9,391.5 317.2,389.7 321.5,387.9 325.9,386.3 330.2,384.7 334.5,383.2 338.8,381.9 343.2,380.6 347.5,379.4 351.8,378.4 356.2,377.4 360.5,376.5 364.8,375.7 369.2,375.1 373.5,374.4 377.8,373.9 382.1,373.5 386.5,373.0 390.8,372.7 395.1,372.3 399.5,371.9 403.8,371.6 408.1,371.3 412.5,371.0 416.8,370.7 421.1,370.5 425.4,370.2 429.8,370.0 434.1,369.7 438.4,369.5 442.8,369.3 447.1,369.0 447.1,390.0 442.8,388.7 438.4,387.5 434.1,386.5 429.8,385.5 425.4,384.6 421.1,383.8 416.8,383.1 412.5,382.6 408.1,382.1 403.8,381.8 399.5,381.6 395.1,381.5 390.8,381.5 386.5,381.6 382.1,381.9 377.8,382.3 373.5,382.8 369.2,383.5 364.8,384.1 360.5,384.9 356.2,385.8 351.8,386.8 347.5,387.8 343.2,389.0 338.8,390.3 334.5,391.6 330.2,393.1 325.9,394.7 321.5,396.5 317.2,398.4 312.9,400.4 308.5,402.5 304.2,404.8 299.9,407.3 295.5,409.8 291.2,412.6 286.9,415.4 282.6,418.5 278.2,421.7 273.9,425.0" fill="#999" fill-opacity="0.4"/>
<polyline points="273.9,419.0 278.2,415.9 282.6,413.0 286.9,410.1 291.2,407.5 295.5,404.9 299.9,402.5 304.2,400.2 308.5,398.0 312.9,396.0 317.2,394.0 321.5,392.2 325.9,390.5 330.2,388.9 334.5,387.4 338.8,386.1 343.2,384.8 347.5,383.6 351.8,382.6 356.2,381.6 360.5,380.7 364.8,379.9 369.2,379.3 373.5,378.6 377.8,378.1 382.1,377.7 386.5,377.3 390.8,377.1 395.1,376.9 399.5,376.7 403.8,376.7 408.1,376.7 412.5,376.8 416.8,376.9 421.1,377.1 425.4,377.4 429.8,377.7 434.1,378.1 438.4,378.5 442.8,379.0 447.1,379.5" fill="none" stroke="#f00" stroke-width="2.6" stroke-linecap="butt" stroke-linejoin="round"/>
<rect x="265.6" y="250.65" width="190.0" height="20.4" fill="#fff" stroke="#3d3d3d" stroke-width="1.25"/>
<path d="M265.6,271.05 V476.3 H455.65 V271.05" fill="none" stroke="#3d3d3d" stroke-width="1.25" stroke-linejoin="miter"/>
<text x="360.6" y="265.1" font-size="10.8" text-anchor="middle" fill="#1a1a1a">Epithelial <tspan font-style="italic">HK2</tspan></text>
<line x1="262.1" x2="265.6" y1="422.8" y2="422.8" stroke="#333" stroke-width="1.25"/>
<text x="259.2" y="426.6" font-size="10.7" text-anchor="end" fill="#4d4d4d">0.25</text>
<line x1="262.1" x2="265.6" y1="366.9" y2="366.9" stroke="#333" stroke-width="1.25"/>
<text x="259.2" y="370.7" font-size="10.7" text-anchor="end" fill="#4d4d4d">0.50</text>
<line x1="262.1" x2="265.6" y1="311.0" y2="311.0" stroke="#333" stroke-width="1.25"/>
<text x="259.2" y="314.8" font-size="10.7" text-anchor="end" fill="#4d4d4d">0.75</text>
<line x1="273.9" x2="273.9" y1="476.3" y2="479.8" stroke="#333" stroke-width="1.25"/>
<text x="273.9" y="490.3" font-size="10.7" text-anchor="middle" fill="#4d4d4d">0.00</text>
<line x1="317.2" x2="317.2" y1="476.3" y2="479.8" stroke="#333" stroke-width="1.25"/>
<text x="317.2" y="490.3" font-size="10.7" text-anchor="middle" fill="#4d4d4d">0.25</text>
<line x1="360.5" x2="360.5" y1="476.3" y2="479.8" stroke="#333" stroke-width="1.25"/>
<text x="360.5" y="490.3" font-size="10.7" text-anchor="middle" fill="#4d4d4d">0.50</text>
<line x1="403.8" x2="403.8" y1="476.3" y2="479.8" stroke="#333" stroke-width="1.25"/>
<text x="403.8" y="490.3" font-size="10.7" text-anchor="middle" fill="#4d4d4d">0.75</text>
<line x1="447.1" x2="447.1" y1="476.3" y2="479.8" stroke="#333" stroke-width="1.25"/>
<text x="447.1" y="490.3" font-size="10.7" text-anchor="middle" fill="#4d4d4d">1.00</text>
<text x="268.8" y="282.9" font-size="10.7" text-anchor="start" fill="#111">p &lt; 0.0001</text>
</g>
<path d="M246.1,255.0 H253.3 V257.0 H248.6 V259.6 H252.9 V261.6 H248.6 V264.3 H253.5 V266.3 H246.1 Z"/>
<text transform="translate(11.3,249.1) rotate(-90)" font-size="13.2" text-anchor="middle" fill="#000">Expression (TPM)</text>
<text x="361.7" y="505.0" font-size="13.2" text-anchor="middle" fill="#000">Inflammation score</text>
</svg></body></html>
